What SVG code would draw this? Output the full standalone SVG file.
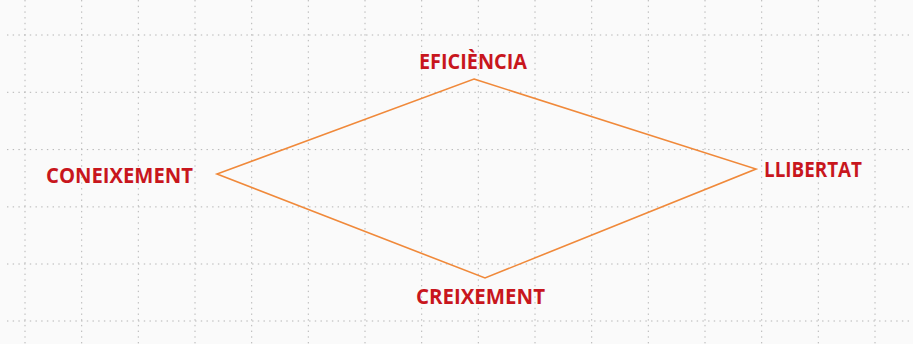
<svg xmlns="http://www.w3.org/2000/svg" width="913" height="344" viewBox="0 0 913 344">
<style>
.grid line{stroke:#b4b4b4;stroke-width:1;stroke-dasharray:1.4 4.3}
.lbl{font-family:"Open Sans","Noto Sans",sans-serif;font-weight:bold;font-size:21px;fill:#c8161d}
.edge{fill:none;stroke:#f0893a;stroke-width:1.6;stroke-linejoin:miter}
</style>
<rect width="913" height="344" fill="#fafafa"/>
<g class="grid">
<line x1="25" y1="0" x2="25" y2="344"/>
<line x1="81.7" y1="0" x2="81.7" y2="344"/>
<line x1="138.3" y1="0" x2="138.3" y2="344"/>
<line x1="195" y1="0" x2="195" y2="344"/>
<line x1="251.7" y1="0" x2="251.7" y2="344"/>
<line x1="308.3" y1="0" x2="308.3" y2="344"/>
<line x1="365" y1="0" x2="365" y2="344"/>
<line x1="421.7" y1="0" x2="421.7" y2="344"/>
<line x1="478.3" y1="0" x2="478.3" y2="344"/>
<line x1="535" y1="0" x2="535" y2="344"/>
<line x1="591.7" y1="0" x2="591.7" y2="344"/>
<line x1="648.3" y1="0" x2="648.3" y2="344"/>
<line x1="705" y1="0" x2="705" y2="344"/>
<line x1="761.7" y1="0" x2="761.7" y2="344"/>
<line x1="818.3" y1="0" x2="818.3" y2="344"/>
<line x1="875" y1="0" x2="875" y2="344"/>
<line x1="7" y1="35" x2="913" y2="35"/>
<line x1="7" y1="92.3" x2="913" y2="92.3"/>
<line x1="7" y1="149.6" x2="913" y2="149.6"/>
<line x1="7" y1="206.9" x2="913" y2="206.9"/>
<line x1="7" y1="264" x2="913" y2="264"/>
<line x1="7" y1="321" x2="913" y2="321"/>
</g>
<g id="connectors">
<polygon class="edge" points="474,79 756,169 485,278 217,174"/>
</g>
<g id="node-eficiencia"><text class="lbl" x="419" y="68.5" textLength="108" lengthAdjust="spacingAndGlyphs">EFICIÈNCIA</text></g>
<g id="node-coneixement"><text class="lbl" x="46" y="182.5" textLength="147" lengthAdjust="spacingAndGlyphs">CONEIXEMENT</text></g>
<g id="node-llibertat"><text class="lbl" x="764" y="177" textLength="98" lengthAdjust="spacingAndGlyphs">LLIBERTAT</text></g>
<g id="node-creixement"><text class="lbl" x="416" y="304" textLength="129" lengthAdjust="spacingAndGlyphs">CREIXEMENT</text></g>
</svg>
